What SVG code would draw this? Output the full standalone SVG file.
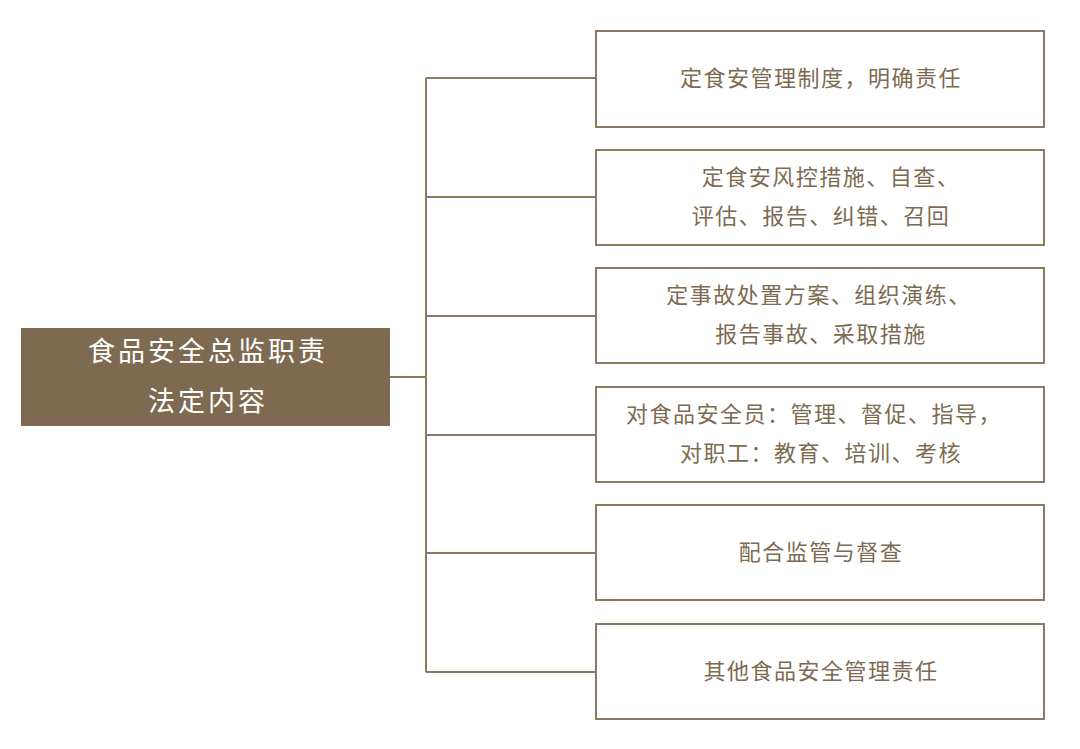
<svg xmlns="http://www.w3.org/2000/svg" width="1080" height="749" viewBox="0 0 1080 749">
<style>
.box{fill:#ffffff;stroke:#8b7a62;stroke-width:2}
.t{font-family:"Noto Sans CJK SC","Liberation Sans",sans-serif;font-size:22px;fill:#7d6a50;text-anchor:middle;letter-spacing:1.5px}
.w{font-family:"Noto Sans CJK SC","Liberation Sans",sans-serif;font-size:27px;fill:#ffffff;text-anchor:middle;letter-spacing:3px}
.ln{stroke:#8b7a62;stroke-width:2;fill:none}
</style>
<rect width="1080" height="749" fill="#ffffff"/>
<g id="connectors">
<path class="ln" d="M390,377 H426 M426,78 V672 M426,78 H596 M426,197 H596 M426,316 H596 M426,435 H596 M426,553 H596 M426,672 H596"/>
</g>
<g id="root">
<rect x="21" y="328" width="369" height="98" fill="#7d6a50"/>
<text class="w" x="208" y="361">食品安全总监职责</text>
<text class="w" x="208" y="411">法定内容</text>
</g>
<g id="n1">
<rect class="box" x="596" y="31" width="448" height="96"/>
<text class="t" x="821" y="86">定食安管理制度，明确责任</text>
</g>
<g id="n2">
<rect class="box" x="596" y="150" width="448" height="95"/>
<text class="t" x="831" y="185">定食安风控措施、自查、</text>
<text class="t" x="821" y="224">评估、报告、纠错、召回</text>
</g>
<g id="n3">
<rect class="box" x="596" y="268" width="448" height="95"/>
<text class="t" x="819" y="303">定事故处置方案、组织演练、</text>
<text class="t" x="821" y="342">报告事故、采取措施</text>
</g>
<g id="n4">
<rect class="box" x="596" y="387" width="448" height="95"/>
<text class="t" x="814" y="422">对食品安全员：管理、督促、指导，</text>
<text class="t" x="821" y="461">对职工：教育、培训、考核</text>
</g>
<g id="n5">
<rect class="box" x="596" y="505" width="448" height="95"/>
<text class="t" x="821" y="560">配合监管与督查</text>
</g>
<g id="n6">
<rect class="box" x="596" y="624" width="448" height="95"/>
<text class="t" x="821" y="679">其他食品安全管理责任</text>
</g>
</svg>
